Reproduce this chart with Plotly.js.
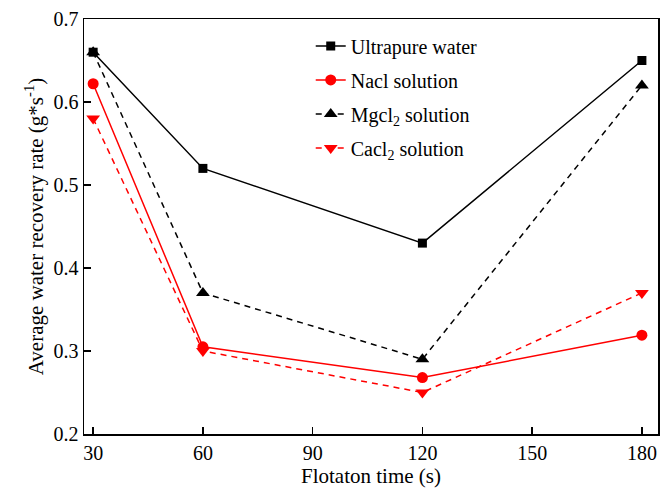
<!DOCTYPE html>
<html><head><meta charset="utf-8">
<script src="https://cdn.plot.ly/plotly-3.0.1.min.js"></script>
<style>html,body{margin:0;padding:0;background:#fff}#chart{width:662px;height:495px}</style>
</head><body><div id="chart"></div>
<script>
const times = [30, 60, 120, 180];
const ultrapure = [0.66, 0.52, 0.43, 0.65];
const nacl = [0.622, 0.305, 0.268, 0.319];
const mgcl2 = [0.66, 0.37, 0.29, 0.62];
const cacl2 = [0.58, 0.30, 0.25, 0.37];
const names = ['Ultrapure water', 'Nacl solution', 'Mgcl<sub>2</sub> solution', 'Cacl<sub>2</sub> solution'];

const traces = [
  {x: times, y: ultrapure, name: names[0], legendgroup: 'a', mode: 'lines+markers',
   line: {color: '#000', width: 1.5}, marker: {symbol: 'square', size: 9, color: '#000'}},
  {x: times, y: nacl, name: names[1], legendgroup: 'b', mode: 'lines+markers',
   line: {color: '#ff0000', width: 1.5}, marker: {symbol: 'circle', size: 11, color: '#ff0000'}},
  {x: times, y: mgcl2, name: names[2], legendgroup: 'c', mode: 'lines+markers',
   line: {color: '#000', width: 1.5, dash: '6px,5px'}, marker: {symbol: 'triangle-up', size: 12, color: '#000'}},
  {x: times, y: cacl2, name: names[3], legendgroup: 'd', mode: 'lines+markers',
   line: {color: '#ff0000', width: 1.5, dash: '6px,5px'}, marker: {symbol: 'triangle-down', size: 12, color: '#ff0000'}}
];

const fam = '"Liberation Serif", "Times New Roman", serif';
const layout = {
  width: 662, height: 495,
  margin: {l: 84, r: 4, t: 19, b: 61},
  paper_bgcolor: '#fff', plot_bgcolor: '#fff',
  font: {family: fam, size: 20, color: '#000'},
  showlegend: true,
  legend: {x: 0.395, y: 0.982, xanchor: 'left', yanchor: 'top', bgcolor: 'rgba(0,0,0,0)',
           font: {family: fam, size: 20, color: '#000'}, tracegroupgap: 5, traceorder: 'grouped'},
  xaxis: {
    range: [27.5, 184.4], tickvals: [30, 60, 90, 120, 150, 180],
    ticks: 'inside', ticklen: 7, tickwidth: 1.5, tickcolor: '#000',
    showline: true, linecolor: '#000', linewidth: 1.5, mirror: true,
    showgrid: false, zeroline: false,
    tickfont: {family: fam, size: 20, color: '#000'},
    title: {text: 'Flotaton time (s)', font: {family: fam, size: 21, color: '#000'}, standoff: 6}
  },
  yaxis: {
    range: [0.2, 0.7], tickvals: [0.2, 0.3, 0.4, 0.5, 0.6, 0.7],
    ticktext: ['0.2', '0.3', '0.4', '0.5', '0.6', '0.7'],
    ticks: 'inside', ticklen: 7, tickwidth: 1.5, tickcolor: '#000',
    showline: true, linecolor: '#000', linewidth: 1.5, mirror: true,
    showgrid: false, zeroline: false,
    tickfont: {family: fam, size: 20, color: '#000'},
    title: {text: 'Average water recovery rate (g*s<sup>-1</sup>)', font: {family: fam, size: 21, color: '#000'}, standoff: 4}
  }
};
Plotly.newPlot('chart', traces, layout, {displayModeBar: false, staticPlot: true});
</script></body></html>
